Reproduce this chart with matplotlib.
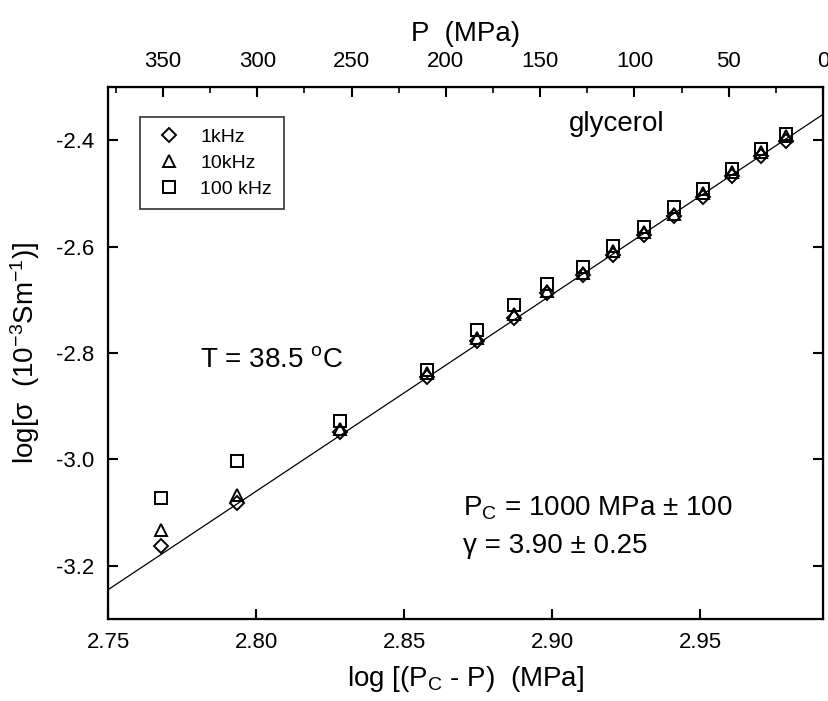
import numpy as np
import matplotlib
matplotlib.use("Agg")
import matplotlib.pyplot as plt
from matplotlib.ticker import MultipleLocator, FormatStrFormatter

plt.rcParams['font.family'] = ['Liberation Sans', 'DejaVu Sans']
plt.rcParams['mathtext.default'] = 'regular'
plt.rcParams['axes.unicode_minus'] = False

# log(Pc - P) and log conductivity at three frequencies
log_dp = [2.7678, 2.7935, 2.8284, 2.8577, 2.8748, 2.8872, 2.8984, 2.9106,
          2.9205, 2.9312, 2.9412, 2.9511, 2.9609, 2.9705, 2.9789]
sig_1k = [-3.162, -3.082, -2.949, -2.846, -2.778, -2.734, -2.687, -2.653,
          -2.616, -2.579, -2.543, -2.507, -2.467, -2.430, -2.401]
sig_10k = [-3.133, -3.067, -2.943, -2.838, -2.772, -2.727, -2.683, -2.650,
           -2.609, -2.573, -2.538, -2.500, -2.459, -2.423, -2.393]
sig_100k = [-3.072, -3.003, -2.927, -2.832, -2.757, -2.709, -2.670, -2.639,
            -2.598, -2.563, -2.525, -2.492, -2.454, -2.417, -2.389]

# straight-line fit
fit_slope = 3.70
fit_icpt = -13.42

xlim = (2.75, 2.9915)
ylim = (-3.3, -2.3)
plim = (379.2, 0)

fig = plt.figure(figsize=(8.29, 7.01), dpi=100)
W, H = 829, 701
ax = fig.add_axes([108 / W, 1 - 619 / H, (823 - 108) / W, (619 - 87) / H])

xl = np.array(xlim)
ax.plot(xl, fit_icpt + fit_slope * xl, color='k', lw=0.9)

mk = dict(ls='none', mfc='none', mec='k', mew=1.4)
ax.plot(log_dp, sig_1k, marker='D', ms=6.8, label='1kHz', **mk)
ax.plot(log_dp, sig_10k, marker='^', ms=9, label='10kHz', **mk)
ax.plot(log_dp, sig_100k, marker='s', ms=8.5, label='100 kHz', **mk)

ax.set_xlim(*xlim)
ax.set_ylim(*ylim)
ax.xaxis.set_major_locator(MultipleLocator(0.05))
ax.xaxis.set_major_formatter(FormatStrFormatter('%.2f'))
ax.yaxis.set_major_locator(MultipleLocator(0.2))
ax.yaxis.set_major_formatter(FormatStrFormatter('%.1f'))
ax.tick_params(axis='both', which='major', direction='in', length=7, width=1.5,
               labelsize=16, right=True)
ax.tick_params(axis='x', pad=9)
ax.tick_params(axis='y', pad=10)
for s in ax.spines.values():
    s.set_linewidth(1.6)

ax.set_xlabel('log [(P$_C$ - P)  (MPa]', fontsize=20, labelpad=8)
ax.set_ylabel('log[σ  (10$^{-3}$Sm$^{-1}$)]', fontsize=20, labelpad=10)

# pressure scale along the top
ax2 = ax.twiny()
ax2.set_xlim(*plim)
ax2.xaxis.set_major_locator(MultipleLocator(50))
ax2.xaxis.set_minor_locator(MultipleLocator(25))
ax2.tick_params(axis='x', which='major', direction='in', length=7, width=1.5,
                labelsize=16, pad=11)
ax2.tick_params(axis='x', which='minor', direction='in', length=4, width=1.2)
ax2.set_xlabel('P  (MPa)', fontsize=20, labelpad=7)

leg = ax.legend(loc='upper left', bbox_to_anchor=(0.045, 0.944), numpoints=1,
                fontsize=14, frameon=True, fancybox=False, borderaxespad=0,
                borderpad=0.6, handlelength=1.8, handletextpad=0.7,
                labelspacing=0.42)
leg.get_frame().set_edgecolor('k')
leg.get_frame().set_linewidth(1.2)

ax.text(0.779, 0.917, 'glycerol', transform=ax.transAxes, fontsize=20,
        ha='right', va='baseline')
ax.text((200 - 108) / 715, (619 - 367) / 532, 'T = 38.5 $^{o}$C',
        transform=ax.transAxes, fontsize=20, ha='left', va='baseline')
ax.text((463 - 108) / 715, (619 - 515) / 532, 'P$_C$ = 1000 MPa ± 100',
        transform=ax.transAxes, fontsize=20, ha='left', va='baseline')
ax.text((463 - 108) / 715, (619 - 553) / 532, 'γ = 3.90 ± 0.25',
        transform=ax.transAxes, fontsize=20, ha='left', va='baseline')

fig.savefig('out.png', dpi=100)
